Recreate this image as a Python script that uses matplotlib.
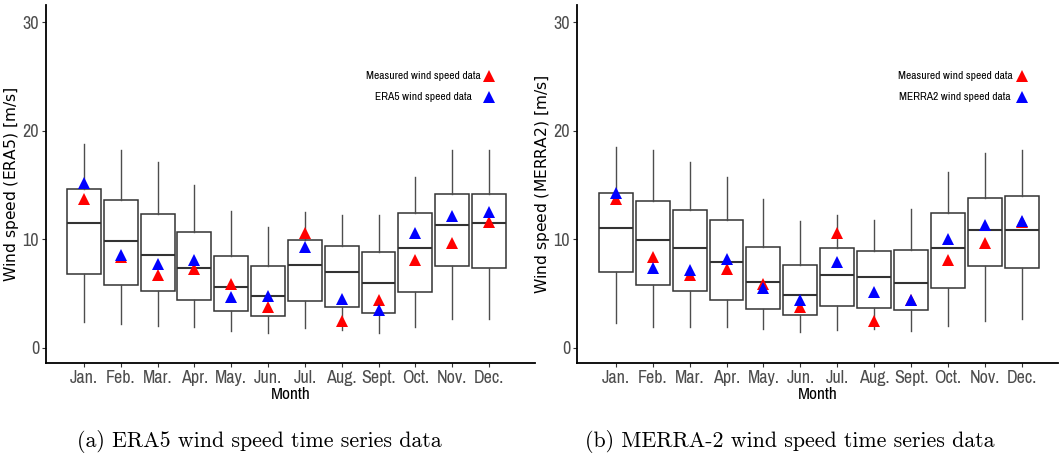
import matplotlib
matplotlib.use("Agg")
import matplotlib.pyplot as plt

# ── data ─────────────────────────────────────────────────────────────────────
MONTHS = ["Jan.", "Feb.", "Mar.", "Apr.", "May.", "Jun.", "Jul.", "Aug.",
          "Sept.", "Oct.", "Nov.", "Dec."]

measured = [13.7, 8.35, 6.7, 7.25, 5.9, 3.8, 10.55, 2.5, 4.4, 8.1, 9.7, 11.6]

# ERA5 monthly box statistics
era5_whislo = [2.4, 2.15, 2.05, 1.9, 1.57, 1.35, 1.8, 1.6, 1.4, 1.9, 2.7, 2.7]
era5_q1     = [6.85, 5.8, 5.2, 4.4, 3.4, 2.95, 4.3, 3.75, 3.25, 5.1, 7.5, 7.35]
era5_med    = [11.5, 9.8, 8.6, 7.4, 5.6, 4.8, 7.6, 6.95, 6.0, 9.2, 11.35, 11.5]
era5_q3     = [14.6, 13.6, 12.3, 10.7, 8.5, 7.5, 9.9, 9.35, 8.85, 12.4, 14.15, 14.2]
era5_whishi = [18.8, 18.2, 17.1, 15.0, 12.6, 11.15, 12.5, 12.2, 12.2, 15.7, 18.2, 18.25]
era5_mean   = [15.2, 8.6, 7.7, 8.1, 4.7, 4.75, 9.3, 4.5, 3.5, 10.55, 12.15, 12.5]

# MERRA-2 monthly box statistics
merra_whislo = [2.3, 1.95, 1.95, 1.9, 1.75, 1.45, 1.6, 1.7, 1.55, 2.0, 2.45, 2.65]
merra_q1     = [6.95, 5.75, 5.2, 4.4, 3.6, 3.05, 3.85, 3.7, 3.5, 5.55, 7.5, 7.4]
merra_med    = [11.05, 9.9, 9.2, 7.95, 6.05, 4.85, 6.7, 6.5, 6.0, 9.2, 10.85, 10.85]
merra_q3     = [14.25, 13.5, 12.7, 11.8, 9.3, 7.65, 9.2, 8.9, 9.0, 12.4, 13.8, 13.95]
merra_whishi = [18.55, 18.2, 17.15, 15.75, 13.7, 11.7, 12.2, 11.8, 12.75, 16.25, 17.95, 18.2]
merra_mean   = [14.25, 7.35, 7.2, 8.2, 5.5, 4.45, 7.95, 5.15, 4.45, 10.0, 11.35, 11.65]

# narrow grotesque for ticks / legend, first one found is used
NARROW = ["Liberation Sans Narrow", "Archivo Narrow", "Roboto Condensed", "Liberation Sans"]
TICK_GREY = "#4D4D4D"


def make_stats(lo, q1, med, q3, hi):
    return [{"whislo": a, "q1": b, "med": c, "q3": d, "whishi": e, "fliers": []}
            for a, b, c, d, e in zip(lo, q1, med, q3, hi)]


def draw_panel(ax, stats, model_vals, model_name, ylabel, xlim, leg_x):
    pos = list(range(1, len(MONTHS) + 1))
    ax.bxp(stats, positions=pos, widths=0.92, showfliers=False, showcaps=False,
           patch_artist=True,
           boxprops=dict(facecolor="white", edgecolor="#333333", linewidth=1.1),
           whiskerprops=dict(color="#4D4D4D", linewidth=1.0),
           medianprops=dict(color="#333333", linewidth=1.5))
    ax.plot(pos, measured, linestyle="none", marker="^", markersize=9,
            color="red", markeredgewidth=0, zorder=5)
    ax.plot(pos, model_vals, linestyle="none", marker="^", markersize=9,
            color="blue", markeredgewidth=0, zorder=6)

    ax.set_xlim(*xlim)
    ax.set_ylim(-1.4, 31.6)
    ax.set_yticks([0, 10, 20, 30])
    ax.set_xticks(pos)
    ax.set_xticklabels(MONTHS)
    for lab in ax.get_xticklabels() + ax.get_yticklabels():
        lab.set_family(NARROW)
        lab.set_fontsize(13)
        lab.set_color(TICK_GREY)
    ax.tick_params(length=3, width=0.8, color="#333333", pad=2)

    for side in ("top", "right"):
        ax.spines[side].set_visible(False)
    for side in ("left", "bottom"):
        ax.spines[side].set_linewidth(1.3)
        ax.spines[side].set_color("black")

    ax.set_xlabel("Month", family=NARROW, fontsize=12.5, labelpad=0.5)
    ax.set_ylabel(ylabel, fontsize=11.2, labelpad=1)

    # hand-made legend (labels centred, key on the right)
    entries = [("Measured wind speed data", "red", 0.802),
               (f"{model_name} wind speed data", "blue", 0.743)]
    for text, col, yy in entries:
        ax.text(leg_x[0], yy, text, transform=ax.transAxes,
                ha="center", va="center", family=NARROW, fontsize=8.3)
        ax.plot([leg_x[1]], [yy], transform=ax.transAxes,
                linestyle="none", marker="^", markersize=8, color=col,
                markeredgewidth=0, clip_on=False)


fig = plt.figure(figsize=(10.59, 4.55), dpi=100)
ax1 = fig.add_axes([46 / 1059, 92 / 455, 489 / 1059, 358 / 455])
ax2 = fig.add_axes([577 / 1059, 92 / 455, 481 / 1059, 358 / 455])

draw_panel(ax1, make_stats(era5_whislo, era5_q1, era5_med, era5_q3, era5_whishi),
           era5_mean, "ERA5", r"Wind speed (ERA5) $\left[\mathrm{m/s}\right]$",
           (-0.03, 13.25), (0.771, 0.906))
draw_panel(ax2, make_stats(merra_whislo, merra_q1, merra_med, merra_q3, merra_whishi),
           merra_mean, "MERRA2", r"Wind speed (MERRA2) $\left[\mathrm{m/s}\right]$",
           (-0.05, 12.98), (0.786, 0.926))

fig.text(259 / 1059, 0.029, "(a) ERA5 wind speed time series data",
         ha="center", va="center", family="cmr10", fontsize=15.8)
fig.text(790 / 1059, 0.029, "(b) MERRA-2 wind speed time series data",
         ha="center", va="center", family="cmr10", fontsize=15.8)

fig.savefig("out.png", dpi=100)
